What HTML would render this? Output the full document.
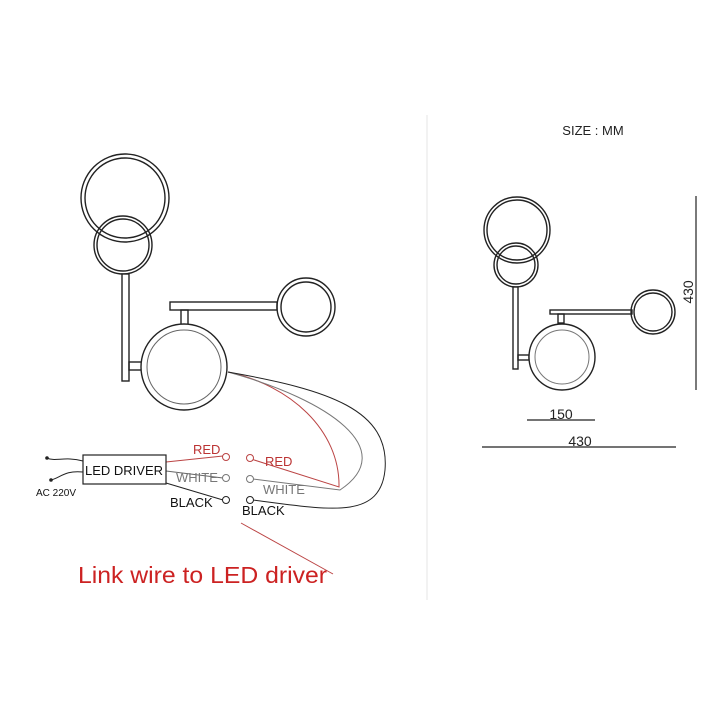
<!DOCTYPE html>
<html><head><meta charset="utf-8"><style>
html,body{margin:0;padding:0;background:#fff;}
svg{display:block;font-family:"Liberation Sans",sans-serif;}
</style></head><body>
<svg width="720" height="720" viewBox="0 0 720 720" xmlns="http://www.w3.org/2000/svg">
<rect width="720" height="720" fill="#fff"/>
<line x1="427" y1="115" x2="427" y2="600" stroke="#e4e4e4" stroke-width="1"/>
<g fill="none" stroke="#222" stroke-width="1.4">
<circle cx="125" cy="198" r="44"/><circle cx="125" cy="198" r="40"/>
<circle cx="123" cy="245" r="29"/><circle cx="123" cy="245" r="26"/>
<rect x="122" y="274" width="7" height="107" fill="#fff"/>
<rect x="129" y="362" width="20" height="8"/>
<rect x="170" y="302" width="107" height="8" fill="#fff"/>
<rect x="181" y="310" width="7" height="20"/>
<circle cx="306" cy="307" r="29"/><circle cx="306" cy="307" r="25"/>
<circle cx="184" cy="367" r="43" fill="#fff"/><circle cx="184" cy="367" r="37" stroke="#666" stroke-width="1"/>
<circle cx="517" cy="230" r="33"/><circle cx="517" cy="230" r="30"/>
<circle cx="516" cy="265" r="22"/><circle cx="516" cy="265" r="19"/>
<rect x="513" y="287" width="5" height="82" fill="#fff"/>
<rect x="518" y="355" width="11" height="5"/>
<rect x="550" y="310" width="82" height="4" fill="#fff"/>
<rect x="558" y="314" width="6" height="9"/>
<circle cx="653" cy="312" r="22"/><circle cx="653" cy="312" r="19"/>
<circle cx="562" cy="357" r="33" fill="#fff"/><circle cx="562" cy="357" r="27" stroke="#777" stroke-width="1"/>
</g>
<g stroke="#222" stroke-width="1.2">
<line x1="696" y1="196" x2="696" y2="390"/>
<line x1="527" y1="420" x2="595" y2="420"/>
<line x1="482" y1="447" x2="676" y2="447"/>
</g>
<text x="593" y="135" font-size="13" text-anchor="middle" fill="#222">SIZE : MM</text>
<text x="561" y="419" font-size="14" text-anchor="middle" fill="#222">150</text>
<text x="580" y="446" font-size="14" text-anchor="middle" fill="#222">430</text>
<text transform="translate(693,292) rotate(-90)" font-size="14" text-anchor="middle" fill="#222">430</text>
<g fill="none" stroke-width="1">
<path d="M228,372 C290,385 340,430 339,487 L251,459" stroke="#b44"/>
<path d="M228,372 C330,400 400,450 340,490 L253,479" stroke="#777"/>
<path d="M228,372 C330,390 390,410 385,470 C380,520 330,510 253,500" stroke="#222"/>
<path d="M47,458 C55,462 65,456 83,461" stroke="#222"/>
<path d="M51,480 C60,478 65,470 83,472" stroke="#222"/>
<line x1="166" y1="462" x2="223" y2="456" stroke="#b44"/>
<line x1="166" y1="471" x2="223" y2="478" stroke="#666"/>
<line x1="166" y1="483" x2="223" y2="500" stroke="#222"/>
<line x1="241" y1="523" x2="333" y2="574" stroke="#b44"/>
</g>
<circle cx="47" cy="458" r="1.8" fill="#222"/><circle cx="51" cy="480" r="1.8" fill="#222"/>
<g fill="#fff" stroke-width="1">
<circle cx="226" cy="457" r="3.5" stroke="#b44"/><circle cx="226" cy="478" r="3.5" stroke="#777"/><circle cx="226" cy="500" r="3.5" stroke="#222"/>
<circle cx="250" cy="458" r="3.5" stroke="#b44"/><circle cx="250" cy="479" r="3.5" stroke="#777"/><circle cx="250" cy="500" r="3.5" stroke="#222"/>
</g>
<rect x="83" y="455" width="83" height="29" fill="#fff" stroke="#222" stroke-width="1.2"/>
<text x="124" y="475" font-size="13" text-anchor="middle" fill="#111">LED DRIVER</text>
<text x="36" y="496" font-size="10" fill="#111">AC 220V</text>
<text x="193" y="454" font-size="13" fill="#b33">RED</text>
<text x="176" y="482" font-size="13" fill="#777">WHITE</text>
<text x="170" y="507" font-size="13" fill="#111">BLACK</text>
<text x="265" y="466" font-size="13" fill="#b33">RED</text>
<text x="263" y="494" font-size="13" fill="#777">WHITE</text>
<text x="242" y="515" font-size="13" fill="#111">BLACK</text>
<text x="78" y="583" font-size="23" fill="#c22" textLength="249" lengthAdjust="spacingAndGlyphs">Link wire to LED driver</text>
</svg>
</body></html>
